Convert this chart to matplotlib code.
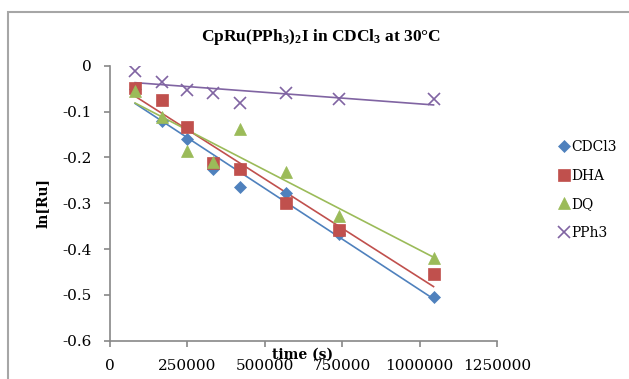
import numpy as np
import matplotlib
matplotlib.use('Agg')
import matplotlib.pyplot as plt
from matplotlib.patches import Rectangle

plt.rcParams['mathtext.fontset'] = 'custom'
plt.rcParams['mathtext.rm'] = 'Liberation Serif:bold'
plt.rcParams['mathtext.it'] = 'Liberation Serif:bold'
plt.rcParams['mathtext.bf'] = 'Liberation Serif:bold'

# データ (time in s, ln[Ru])
time_s = [81000, 167000, 250000, 334000, 420000, 569000, 741000, 1045000]
cdcl3 = [-0.05, -0.12, -0.159, -0.225, -0.265, -0.277, -0.368, -0.504]
dha = [-0.049, -0.075, -0.133, -0.213, -0.225, -0.30, -0.358, -0.455]
dq = [-0.056, -0.113, -0.187, -0.211, -0.138, -0.232, -0.327, -0.42]
pph3 = [-0.011, -0.035, -0.054, -0.059, -0.082, -0.060, -0.072, -0.072]

x_ticks = [0, 250000, 500000, 750000, 1000000, 1250000]
y_ticks = [0, -0.1, -0.2, -0.3, -0.4, -0.5, -0.6]

series = [
    ('CDCl3', cdcl3, '#4F81BD', 'D', 6.5),
    ('DHA', dha, '#C0504D', 's', 8.5),
    ('DQ', dq, '#9BBB59', '^', 8.5),
    ('PPh3', pph3, '#8064A2', 'x', 9),
]

fig = plt.figure(figsize=(6.29, 3.79), dpi=100)
ax = fig.add_axes([110 / 629, 1 - 340.7 / 379, 387 / 629, 275 / 379])

# グレーの枠
fig.patches.append(Rectangle((8 / 629, -0.1), 1.1, 1 - 12 / 379 + 0.1,
                             transform=fig.transFigure, fill=False,
                             edgecolor='#a6a6a6', linewidth=1.5))

x = np.array(time_s, dtype=float)
for name, vals, color, marker, ms in series:
    y = np.array(vals)
    ax.plot(x, y, linestyle='none', marker=marker, color=color, markersize=ms,
            markeredgewidth=1.2 if marker == 'x' else 0.5, label=name, zorder=3)
    # 線形近似
    k, b = np.polyfit(x, y, 1)
    ax.plot([x[0], x[-1]], [k * x[0] + b, k * x[-1] + b], color=color, linewidth=1.2, zorder=2)

ax.set_xlim(0, 1250000)
ax.set_ylim(-0.6, 0)
ax.set_xticks(x_ticks)
ax.set_xticklabels([str(t) for t in x_ticks])
ax.set_yticks(y_ticks)
ax.set_yticklabels(['0' if t == 0 else f'{t:.1f}' for t in y_ticks])

for s in ['top', 'right']:
    ax.spines[s].set_visible(False)
for s in ['left', 'bottom']:
    ax.spines[s].set_color('#888888')
    ax.spines[s].set_linewidth(1.2)
ax.tick_params(axis='both', colors='#888888', length=4, width=1.2, labelcolor='black')
ax.tick_params(axis='x', pad=9)
ax.tick_params(axis='y', pad=9)
for lab in ax.get_xticklabels() + ax.get_yticklabels():
    lab.set_fontfamily('DejaVu Serif')
    lab.set_fontsize(11)

fig.text(321 / 629, 1 - 37 / 379, r'CpRu(PPh$_3$)$_2$I in CDCl$_3$ at 30°C',
         ha='center', va='center', fontsize=12.5, fontweight='bold',
         family='Liberation Serif')
fig.text(303 / 629, 1 - 355 / 379, 'time (s)', ha='center', va='center',
         fontsize=10, fontweight='bold', family='DejaVu Serif')
fig.text(43 / 629, 1 - 203 / 379, 'ln[Ru]', ha='center', va='center', rotation=90,
         fontsize=10, fontweight='bold', family='DejaVu Serif')

leg = ax.legend(loc='center left', bbox_to_anchor=(551 / 629, 1 - 190 / 379),
                bbox_transform=fig.transFigure, frameon=False, handlelength=0.8,
                handletextpad=0.15, labelspacing=1.05, borderpad=0,
                prop={'family': 'DejaVu Serif', 'size': 10})

fig.savefig('out.png', dpi=100)
